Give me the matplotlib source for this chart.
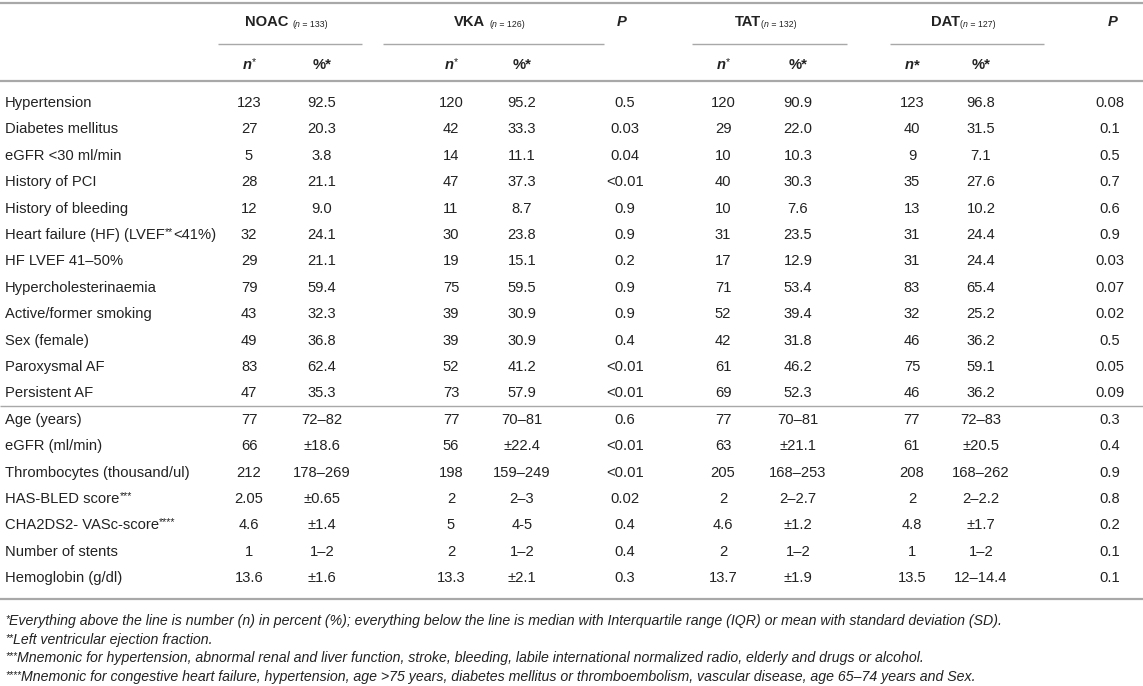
import matplotlib
matplotlib.use("Agg")
import matplotlib.pyplot as plt

# ---- table content ----
row_labels = [
    "Hypertension", "Diabetes mellitus", "eGFR <30 ml/min", "History of PCI",
    "History of bleeding", "Heart failure (HF) (LVEF**<41%)", "HF LVEF 41–50%",
    "Hypercholesterinaemia", "Active/former smoking", "Sex (female)",
    "Paroxysmal AF", "Persistent AF",
    "Age (years)", "eGFR (ml/min)", "Thrombocytes (thousand/ul)", "HAS-BLED score***",
    "CHA2DS2- VASc-score****", "Number of stents", "Hemoglobin (g/dl)",
]
noac_n = ["123", "27", "5", "28", "12", "32", "29", "79", "43", "49", "83", "47",
          "77", "66", "212", "2.05", "4.6", "1", "13.6"]
noac_pct = ["92.5", "20.3", "3.8", "21.1", "9.0", "24.1", "21.1", "59.4", "32.3", "36.8", "62.4", "35.3",
            "72–82", "±18.6", "178–269", "±0.65", "±1.4", "1–2", "±1.6"]
vka_n = ["120", "42", "14", "47", "11", "30", "19", "75", "39", "39", "52", "73",
         "77", "56", "198", "2", "5", "2", "13.3"]
vka_pct = ["95.2", "33.3", "11.1", "37.3", "8.7", "23.8", "15.1", "59.5", "30.9", "30.9", "41.2", "57.9",
           "70–81", "±22.4", "159–249", "2–3", "4-5", "1–2", "±2.1"]
p_oral = ["0.5", "0.03", "0.04", "<0.01", "0.9", "0.9", "0.2", "0.9", "0.9", "0.4", "<0.01", "<0.01",
          "0.6", "<0.01", "<0.01", "0.02", "0.4", "0.4", "0.3"]
tat_n = ["120", "29", "10", "40", "10", "31", "17", "71", "52", "42", "61", "69",
         "77", "63", "205", "2", "4.6", "2", "13.7"]
tat_pct = ["90.9", "22.0", "10.3", "30.3", "7.6", "23.5", "12.9", "53.4", "39.4", "31.8", "46.2", "52.3",
           "70–81", "±21.1", "168–253", "2–2.7", "±1.2", "1–2", "±1.9"]
dat_n = ["123", "40", "9", "35", "13", "31", "31", "83", "32", "46", "75", "46",
         "77", "61", "208", "2", "4.8", "1", "13.5"]
dat_pct = ["96.8", "31.5", "7.1", "27.6", "10.2", "24.4", "24.4", "65.4", "25.2", "36.2", "59.1", "36.2",
           "72–83", "±20.5", "168–262", "2–2.2", "±1.7", "1–2", "12–14.4"]
p_therapy = ["0.08", "0.1", "0.5", "0.7", "0.6", "0.9", "0.03", "0.07", "0.02", "0.5", "0.05", "0.09",
             "0.3", "0.4", "0.9", "0.8", "0.2", "0.1", "0.1"]

group_names = ["NOAC", "VKA", "TAT", "DAT"]
group_sizes = ["133", "126", "132", "127"]
n_count_rows = 12   # rows above the thin separator line

footnotes = [
    ("*", "Everything above the line is number (n) in percent (%); everything below the line is "
          "median with Interquartile range (IQR) or mean with standard deviation (SD)."),
    ("**", "Left ventricular ejection fraction."),
    ("***", "Mnemonic for hypertension, abnormal renal and liver function, stroke, bleeding, labile "
            "international normalized radio, elderly and drugs or alcohol."),
    ("****", "Mnemonic for congestive heart failure, hypertension, age >75 years, diabetes mellitus "
             "or thromboembolism, vascular disease, age 65–74 years and Sex."),
]

# ---- layout (pixels) ----
W, H = 1143, 686
FONT = "Liberation Sans"
FS = 10.6
SMALL = 6.3
FOOT_FS = 10.2
TXT = "#222222"
RULE = "#a8a8a8"

col_x = [249, 322, 451, 522, 625, 723, 798, 912, 981, 1110]
group_lines = [(218, 362), (383, 604), (692, 847), (890, 1044)]
p_x = [622, 1113]

y_top_rule = 3
y_group = 21
y_group_rule = 44
y_sub = 64
y_head_rule = 81
y_first = 102
row_h = 26.4
y_foot0 = 620
foot_h = 18.6

fig = plt.figure(figsize=(W / 100, H / 100), dpi=100)
ax = fig.add_axes([0, 0, 1, 1])
ax.set_xlim(0, W)
ax.set_ylim(H, 0)
ax.axis("off")
renderer = fig.canvas.get_renderer()

BASE = 5.0  # baseline offset below visual centre


def runs(x, yc, parts, align="left", color=TXT):
    """Draw a list of (text, size, weight, style, raise) pieces side by side."""
    items = []
    total = 0.0
    for txt, size, weight, style, rise in parts:
        t = ax.text(0, yc + BASE - rise, txt, fontsize=size, fontweight=weight,
                    fontstyle=style, family=FONT, color=color, va="baseline", ha="left")
        w = t.get_window_extent(renderer).width if txt.strip() else size * 0.38
        items.append((t, w))
        total += w
    start = x - total / 2 if align == "center" else x
    for t, w in items:
        t.set_x(start)
        start += w
    return total


def label_parts(s, style="normal", size=FS):
    # split label so that runs of asterisks become small raised marks
    parts = []
    buf = ""
    i = 0
    while i < len(s):
        if s[i] == "*":
            if buf:
                parts.append((buf, size, "normal", style, 0))
                buf = ""
            j = i
            while j < len(s) and s[j] == "*":
                j += 1
            parts.append((s[i:j], size * 0.72, "normal", style, 4))
            i = j
        else:
            buf += s[i]
            i += 1
    if buf:
        parts.append((buf, size, "normal", style, 0))
    return parts


# rules
ax.plot([0, W], [y_top_rule, y_top_rule], color=RULE, lw=1.6, solid_capstyle="butt")
ax.plot([0, W], [y_head_rule, y_head_rule], color=RULE, lw=1.6, solid_capstyle="butt")
for x0, x1 in group_lines:
    ax.plot([x0, x1], [y_group_rule, y_group_rule], color=RULE, lw=1.0, solid_capstyle="butt")

# group headers, centred over their rules
for (x0, x1), name, size in zip(group_lines, group_names, group_sizes):
    parts = [(name, FS, "bold", "normal", 0)]
    if name in ("NOAC", "VKA"):
        parts.append((" ", FS, "normal", "normal", 0))
    parts += [
        ("(", SMALL, "normal", "normal", -1),
        ("n", SMALL, "normal", "italic", -1),
        (" = " + size + ")", SMALL, "normal", "normal", -1),
    ]
    runs((x0 + x1) / 2 - 4, y_group, parts, align="center")
for px in p_x:
    runs(px, y_group, [("P", FS, "bold", "italic", 0)], align="center")

# n* / %* sub headers
for k in range(4):
    xn, xp = col_x[[0, 2, 5, 7][k]], col_x[[1, 3, 6, 8][k]]
    star = ("*", FS, "bold", "normal", 0) if k == 3 else ("*", FS * 0.72, "normal", "normal", 4)
    runs(xn, y_sub, [("n", FS, "bold", "italic", 0), star], align="center")
    runs(xp, y_sub, [("%*", FS, "bold", "normal", 0)], align="center")

# body
columns = [noac_n, noac_pct, vka_n, vka_pct, p_oral, tat_n, tat_pct, dat_n, dat_pct, p_therapy]
for i, lab in enumerate(row_labels):
    yc = y_first + i * row_h
    runs(5, yc, label_parts(lab))
    for cx, col in zip(col_x, columns):
        ax.text(cx, yc + BASE, col[i], fontsize=FS, family=FONT, color=TXT,
                ha="center", va="baseline")

y_mid_rule = y_first + (n_count_rows - 0.5) * row_h
ax.plot([0, W], [y_mid_rule, y_mid_rule], color=RULE, lw=1.0, solid_capstyle="butt")
y_bot_rule = y_first + (len(row_labels) - 1) * row_h + 22
ax.plot([0, W], [y_bot_rule, y_bot_rule], color=RULE, lw=1.6, solid_capstyle="butt")

# footnotes
for k, (stars, text) in enumerate(footnotes):
    yc = y_foot0 + k * foot_h
    runs(5, yc, [(stars, 7.4, "normal", "italic", 3), (text, FOOT_FS, "normal", "italic", 0)])

fig.savefig("out.png", dpi=100)
